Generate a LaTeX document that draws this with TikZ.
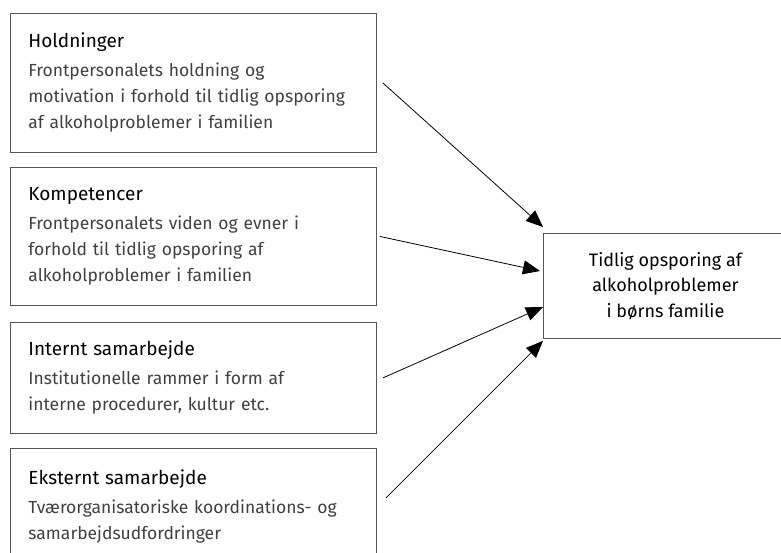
\documentclass[tikz,border=0pt]{standalone}
\usepackage{fontspec}
\setmainfont{Fira Sans}
\usetikzlibrary{arrows.meta,calc}
\definecolor{bodygray}{HTML}{404040}
\definecolor{edgegray}{HTML}{555555}
\tikzset{
  srcbox/.style={draw=edgegray,line width=0.9pt,anchor=north west,minimum width=366pt,
    text width=330pt,inner xsep=18pt,align=left,
    font=\fontsize{17.5pt}{26pt}\selectfont,text=bodygray},
  tgtbox/.style={draw=edgegray,line width=0.9pt,anchor=north west,minimum width=244pt,
    minimum height=105pt,align=center,font=\fontsize{18pt}{25.5pt}\selectfont,text=black},
  conn/.style={line width=0.8pt,-{Triangle[length=17pt,width=14pt]}},
}
\newcommand{\ttl}[1]{{\color{black}\fontsize{19pt}{26pt}\selectfont #1}\\[3pt]}
\begin{document}
\begin{tikzpicture}[x=1pt,y=1pt]
\useasboundingbox (0,0) rectangle (781,553);
\begin{scope}
\clip (0,0) rectangle (781,553);
\node[srcbox,minimum height=139pt] (b1) at (10,540) {\ttl{Holdninger}Frontpersonalets holdning og\\motivation i forhold til tidlig opsporing\\af alkoholproblemer i familien};
\node[srcbox,minimum height=138pt] (b2) at (10,386) {\ttl{Kompetencer}Frontpersonalets viden og evner i\\forhold til tidlig opsporing af\\alkoholproblemer i familien};
\node[srcbox,minimum height=111pt] (b3) at (10,231) {\ttl{Internt samarbejde}Institutionelle rammer i form af\\interne procedurer, kultur etc.};
\node[srcbox,minimum height=116pt] (b4) at (10,105) {\ttl{Eksternt samarbejde}Tværorganisatoriske koordinations- og\\samarbejdsudfordringer};
\node[tgtbox] (t) at (543,320) {Tidlig opsporing af\\alkoholproblemer\\i børns familie};
\end{scope}
\coordinate (s1) at ($(b1.east)+(6,0)$);
\coordinate (s2) at ($(b2.east)+(3,0)$);
\coordinate (s3) at ($(b3.east)+(6,0)$);
\coordinate (s4) at ($(b4.north east)+(9,-50)$);
\coordinate (e1) at ($(t.north west)+(0,6)$);
\coordinate (e2) at ($(t.north west)+(-3,-38)$);
\coordinate (e3) at ($(t.north west)+(0,-74)$);
\coordinate (e4) at ($(t.south west)+(0,-2)$);
\draw[conn] (s1) -- (e1);
\draw[conn] (s2) -- (e2);
\draw[conn] (s3) -- (e3);
\draw[conn] (s4) -- (e4);
\end{tikzpicture}
\end{document}
